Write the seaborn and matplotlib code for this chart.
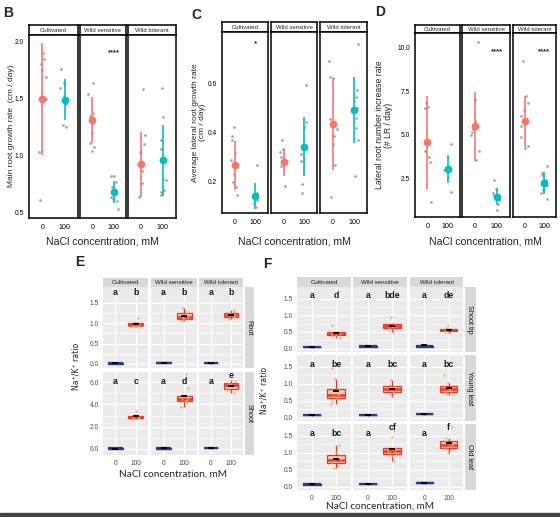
import numpy as np
import pandas as pd
import matplotlib
matplotlib.use("Agg")
import matplotlib.pyplot as plt
import seaborn as sns

# ---------------- data ----------------
groups = ["Cultivated", "Wild sensitive", "Wild tolerant"]
conc = ["0", "100"]

# Panel B: main root growth rate (cm/day)
B_pts_0 = [[1.90, 1.85, 1.80, 1.75, 1.69, 1.50, 1.03, 0.61],
           [1.64, 1.54, 1.37, 1.35, 1.20, 1.11, 1.08, 1.04],
           [1.58, 1.18, 1.10, 1.03, 0.93, 0.87, 0.76, 0.65, 0.64]]
B_pts_100 = [[1.76, 1.64, 1.59, 1.52, 1.45, 1.27, 1.25],
             [0.82, 0.82, 0.77, 0.73, 0.64, 0.62, 0.60, 0.53],
             [1.59, 1.34, 1.14, 1.06, 0.80, 0.79, 0.70, 0.68, 0.66]]
B_mean_0 = [1.50, 1.31, 0.93]
B_sd_0 = [0.49, 0.20, 0.28]
B_mean_100 = [1.49, 0.68, 0.96]
B_sd_100 = [0.18, 0.095, 0.31]
B_stars = ["", "****", ""]

# Panel C: average lateral root growth rate (cm/day)
C_pts_0 = [[0.42, 0.383, 0.367, 0.313, 0.285, 0.231, 0.197, 0.177, 0.143],
           [0.367, 0.33, 0.32, 0.30, 0.28, 0.26, 0.18],
           [0.688, 0.624, 0.62, 0.455, 0.414, 0.383, 0.35, 0.265, 0.136]]
C_pts_100 = [[0.265, 0.15, 0.134, 0.123, 0.109, 0.093],
             [0.59, 0.44, 0.42, 0.34, 0.31, 0.28, 0.19, 0.15],
             [0.76, 0.57, 0.543, 0.525, 0.50, 0.458, 0.417, 0.367, 0.22]]
C_mean_0 = [0.265, 0.276, 0.432]
C_sd_0 = [0.10, 0.055, 0.185]
C_mean_100 = [0.139, 0.34, 0.489]
C_sd_100 = [0.054, 0.121, 0.135]
C_stars = ["*", "", ""]

# Panel D: lateral root number increase rate (#LR/day)
D_pts_0 = [[6.83, 6.60, 6.54, 4.04, 3.75, 3.46, 1.15],
           [10.33, 7.02, 5.77, 5.33, 5.19, 5.00, 4.04, 3.56],
           [9.23, 7.21, 6.83, 6.44, 6.06, 5.48, 4.87, 4.33, 4.23]]
D_pts_100 = [[4.48, 3.08, 2.98, 2.60, 1.73],
             [2.40, 1.87, 1.67, 1.54, 1.25, 1.02, 0.67],
             [3.23, 2.79, 2.69, 2.40, 2.12, 1.83, 1.63, 1.29]]
D_mean_0 = [4.56, 5.48, 5.77]
D_sd_0 = [2.70, 2.00, 1.47]
D_mean_100 = [3.02, 1.44, 2.25]
D_sd_100 = [0.82, 0.48, 0.63]
D_stars = ["", "****", "****"]

# Panel E: Na+/K+ ratio, rows Root / Shoot
E_rows = ["Root", "Shoot"]
E_root_0 = [[0.00, 0.01, 0.01, 0.02, 0.02, 0.03],
            [0.02, 0.03, 0.03, 0.04, 0.04, 0.05],
            [0.01, 0.02, 0.02, 0.03, 0.03, 0.04]]
E_root_100 = [[0.92, 0.93, 0.95, 0.96, 0.97, 1.00, 1.02, 1.13],
              [1.05, 1.08, 1.10, 1.13, 1.15, 1.17, 1.24, 1.27, 1.37],
              [1.10, 1.14, 1.16, 1.19, 1.20, 1.22, 1.25, 1.27, 1.32]]
E_shoot_0 = [[0.00, 0.02, 0.04, 0.05, 0.06, 0.08],
             [0.01, 0.03, 0.05, 0.06, 0.07, 0.09],
             [0.04, 0.06, 0.08, 0.10, 0.12, 0.14]]
E_shoot_100 = [[2.65, 2.75, 2.82, 2.88, 2.92, 2.98, 3.05, 3.40],
               [3.80, 4.15, 4.30, 4.40, 4.46, 4.55, 4.65, 4.75, 5.45, 6.70],
               [5.00, 5.30, 5.40, 5.60, 5.70, 5.80, 5.95, 6.05, 6.20]]
E_root_letters = [["a", "b"], ["a", "b"], ["a", "b"]]
E_shoot_letters = [["a", "c"], ["a", "d"], ["a", "e"]]

# Panel F: Na+/K+ ratio, rows Shoot tip / Young leaf / Old leaf
F_rows = ["Shoot tip", "Young leaf", "Old leaf"]
F_tip_0 = [[0.03, 0.04, 0.05, 0.06, 0.06, 0.07],
           [0.05, 0.06, 0.07, 0.08, 0.09, 0.10],
           [0.05, 0.06, 0.07, 0.08, 0.09, 0.22]]
F_tip_100 = [[0.33, 0.38, 0.41, 0.43, 0.45, 0.48, 0.51, 0.71],
             [0.50, 0.58, 0.62, 0.66, 0.68, 0.72, 0.76, 0.95],
             [0.47, 0.51, 0.53, 0.55, 0.57, 0.59, 0.62, 0.71]]
F_young_0 = [[0.05, 0.06, 0.07, 0.07, 0.08, 0.09],
             [0.06, 0.07, 0.08, 0.08, 0.09, 0.10],
             [0.08, 0.09, 0.10, 0.10, 0.11, 0.12]]
F_young_100 = [[0.40, 0.50, 0.58, 0.63, 0.66, 0.70, 0.78, 0.85, 1.15, 1.47],
               [0.61, 0.70, 0.76, 0.84, 0.88, 0.92, 0.96, 1.10],
               [0.66, 0.71, 0.76, 0.80, 0.84, 0.88, 0.92, 1.03, 1.25]]
F_old_0 = [[0.04, 0.05, 0.06, 0.07, 0.08, 0.10],
           [0.05, 0.06, 0.07, 0.08, 0.09, 0.10],
           [0.09, 0.10, 0.11, 0.12, 0.13, 0.14]]
F_old_100 = [[0.54, 0.65, 0.72, 0.77, 0.81, 0.90, 1.02, 1.22],
             [0.75, 0.90, 0.95, 1.00, 1.03, 1.06, 1.10, 1.14, 1.46, 1.65],
             [0.99, 1.10, 1.15, 1.20, 1.24, 1.30, 1.36, 1.44, 1.77]]
F_tip_letters = [["a", "d"], ["a", "bde"], ["a", "de"]]
F_young_letters = [["a", "be"], ["a", "bc"], ["a", "bc"]]
F_old_letters = [["a", "bc"], ["a", "cf"], ["a", "f"]]

# ---------------- style ----------------
sns.set_theme(style="white")
plt.rcParams["font.family"] = ["Liberation Sans", "DejaVu Sans"]
np.random.seed(3)

W, H = 560, 517
fig = plt.figure(figsize=(W / 100, H / 100), dpi=100)
fig.patch.set_facecolor("white")

RED = "#F8766D"
TEAL = "#00BFC4"
PT_GRAY = "#A8A8A8"
BOX_RED = "#E8392B"
BOX_FILL = "#F9C6B6"
NAVY = "#2C3A8C"
NAVY_FILL = "#7F89C6"
PT_ORANGE = "#F3A35A"


def px_axes(x0, y0, x1, y1):
    return fig.add_axes([x0 / W, 1 - y1 / H, (x1 - x0) / W, (y1 - y0) / H])


def long_df(v0, v1):
    return pd.DataFrame({"conc": ["0"] * len(v0) + ["100"] * len(v1),
                         "val": list(v0) + list(v1)})


# ---------- dot panels (B, C, D) ----------
def dot_panel(letter, letter_xy, facets_x, y_strip, y_top, y_bot, ylim, yticks,
              yfmt, pts0, pts1, m0, s0, m1, s1, stars, star_y,
              ylabel, ylabel_x, ylabel_size):
    for i, g in enumerate(groups):
        x0, x1 = facets_x[i]
        sax = px_axes(x0, y_strip, x1, y_top)
        sax.set_facecolor("white")
        sax.set_xticks([]); sax.set_yticks([])
        for sp in sax.spines.values():
            sp.set_color("black"); sp.set_linewidth(1.1)
        sax.text(0.5, 0.45, g, ha="center", va="center", fontsize=4.3,
                 transform=sax.transAxes)
        ax = px_axes(x0, y_top, x1, y_bot)
        df = long_df(pts0[i], pts1[i])
        sns.stripplot(data=df, x="conc", y="val", order=conc, color=PT_GRAY,
                      size=2.0, jitter=0.2, linewidth=0, ax=ax, zorder=2)
        means = [m0[i], m1[i]]
        sds = [s0[i], s1[i]]
        for j, c in enumerate(conc):
            col = RED if c == "0" else TEAL
            ax.errorbar(j, means[j], yerr=sds[j], fmt="o", color=col,
                        ms=4.6, elinewidth=1.2, capsize=0, zorder=3)
        if stars[i]:
            ax.text(1, star_y, stars[i], ha="center", va="center",
                    fontsize=5.6, fontweight="bold", color="#222222")
        ax.set_xlim(-0.6, 1.6)
        ax.set_ylim(*ylim)
        ax.set_xlabel(""); ax.set_ylabel("")
        ax.set_facecolor("white")
        for sp in ax.spines.values():
            sp.set_visible(True); sp.set_color("black"); sp.set_linewidth(1.1)
        ax.set_xticks([0, 1])
        ax.set_xticklabels(conc, fontsize=5.1)
        ax.set_yticks(yticks)
        if i == 0:
            ax.set_yticklabels([yfmt.format(t) for t in yticks], fontsize=4.8)
            ax.tick_params(axis="y", length=2, width=0.6, pad=1.5, colors="black")
        else:
            ax.set_yticklabels([])
            ax.tick_params(axis="y", length=0)
        ax.tick_params(axis="x", length=2, width=0.6, pad=2, colors="black")
        ax.grid(False)
    fig.text(letter_xy[0] / W, 1 - letter_xy[1] / H, letter, fontsize=10,
             fontweight="bold", ha="left", va="center")
    cx = (facets_x[0][0] + facets_x[-1][1]) / 2
    fig.text(cx / W, 1 - 241 / H, "NaCl concentration, mM", fontsize=7.6,
             ha="center", va="center")
    cy = (y_top + y_bot) / 2
    fig.text(ylabel_x / W, 1 - cy / H, ylabel, fontsize=ylabel_size,
             rotation=90, ha="center", va="center", linespacing=1.0)


dot_panel("B", (3, 13), [(29, 78), (79.5, 126.5), (128, 176)], 25, 34.5, 218,
          (0.455, 2.06), [0.5, 1.0, 1.5, 2.0], "{:.1f}",
          B_pts_0, B_pts_100, B_mean_0, B_sd_0, B_mean_100, B_sd_100,
          B_stars, 1.90, "Main root growth rate  (cm / day)", 11.5, 6.0)
dot_panel("C", (191, 15), [(222, 268), (271, 317), (320, 367)], 22, 32, 213,
          (0.07, 0.808), [0.2, 0.4, 0.6], "{:.1f}",
          C_pts_0, C_pts_100, C_mean_0, C_sd_0, C_mean_100, C_sd_100,
          C_stars, 0.76, "Average lateral root growth rate\n(cm / day)", 199, 6.0)
dot_panel("D", (375, 12), [(415, 460), (462, 510), (513, 556)], 25, 33, 217,
          (0.27, 10.86), [2.5, 5.0, 7.5, 10.0], "{:.1f}",
          D_pts_0, D_pts_100, D_mean_0, D_sd_0, D_mean_100, D_sd_100,
          D_stars, 9.8, "Lateral root number increase rate\n(# LR / day)", 384, 6.2)


# ---------- ggplot-style box panels (E, F) ----------
def gg_facet(ax, v0, v1, ylim, yticks, yfmt, letters, letter_y, raise_y,
             show_y, show_x):
    d0 = long_df(v0, [])
    d1 = long_df([], v1)
    sns.boxplot(data=d0, x="conc", y="val", order=conc, color=NAVY_FILL,
                linecolor=NAVY, saturation=1, width=0.72, linewidth=1.0,
                showfliers=False, showcaps=False,
                medianprops=dict(color=NAVY, linewidth=1.6), ax=ax, zorder=2)
    sns.boxplot(data=d1, x="conc", y="val", order=conc, color=BOX_FILL,
                linecolor=BOX_RED, saturation=1, width=0.72, linewidth=0.9,
                showfliers=False, showcaps=False,
                medianprops=dict(color=BOX_RED, linewidth=1.8), ax=ax, zorder=2)
    sns.stripplot(data=long_df([], v1), x="conc", y="val", order=conc,
                  color=PT_ORANGE, size=1.6, jitter=0.2, linewidth=0,
                  alpha=0.85, ax=ax, zorder=3)
    sns.pointplot(data=long_df(v0, v1), x="conc", y="val", order=conc,
                  errorbar=None, color="black", markers="_", linestyles="none",
                  markersize=5, markeredgewidth=1.3, ax=ax, zorder=4)
    rng = ylim[1] - ylim[0]
    for j in range(2):
        yy = letter_y + (raise_y[j] * rng)
        ax.text(j, yy, letters[j], ha="center", va="center", fontsize=6.3,
                fontweight="bold", color="#1a1a1a", zorder=5)
    ax.set_xlim(-0.6, 1.6)
    ax.set_ylim(*ylim)
    ax.set_xlabel(""); ax.set_ylabel("")
    ax.set_facecolor("#EBEBEB")
    for sp in ax.spines.values():
        sp.set_visible(False)
    ax.set_axisbelow(True)
    ax.set_xticks([0, 1])
    ax.set_yticks(yticks)
    minor = [(a + b) / 2 for a, b in zip(yticks[:-1], yticks[1:])]
    ax.set_yticks(minor, minor=True)
    ax.grid(True, which="major", color="white", linewidth=0.9)
    ax.grid(True, which="minor", axis="y", color="white", linewidth=0.45)
    ax.tick_params(which="minor", length=0)
    if show_y:
        ax.set_yticklabels([yfmt.format(t) for t in yticks], fontsize=4.8,
                           color="#4D4D4D")
        ax.tick_params(axis="y", which="major", length=2, width=0.5,
                       color="#333333", pad=1)
    else:
        ax.set_yticklabels([])
        ax.tick_params(axis="y", which="major", length=0)
    if show_x:
        ax.set_xticklabels(conc, fontsize=4.8, color="#4D4D4D")
        ax.tick_params(axis="x", length=2, width=0.5, color="#333333", pad=1.5)
    else:
        ax.set_xticklabels([])
        ax.tick_params(axis="x", length=0)


def strip_box(x0, y0, x1, y1, text, rot=0, size=4.4):
    sax = px_axes(x0, y0, x1, y1)
    sax.set_facecolor("#D9D9D9")
    sax.set_xticks([]); sax.set_yticks([])
    for sp in sax.spines.values():
        sp.set_visible(False)
    sax.text(0.5, 0.5, text, ha="center", va="center", fontsize=size,
             rotation=rot, color="#1A1A1A", transform=sax.transAxes)


# Panel E
E_x = [(103, 148), (151, 197), (199, 243)]
E_y = [(287, 368), (372, 455)]
E_data = [(E_root_0, E_root_100, (-0.1, 1.89), [0.0, 0.5, 1.0, 1.5], E_root_letters, 1.76),
          (E_shoot_0, E_shoot_100, (-0.54, 6.9), [0.0, 2.0, 4.0, 6.0], E_shoot_letters, 6.05)]
for i, g in enumerate(groups):
    strip_box(E_x[i][0], 278, E_x[i][1], 287, g)
for r, (d0, d1, yl, yt, lets, ly) in enumerate(E_data):
    strip_box(244.5, E_y[r][0], 254, E_y[r][1], E_rows[r], rot=270, size=5.3)
    for i in range(3):
        ax = px_axes(E_x[i][0], E_y[r][0], E_x[i][1], E_y[r][1])
        raise_y = [0, 0.075] if (r == 1 and i == 2) else [0, 0]
        gg_facet(ax, d0[i], d1[i], yl, yt, "{:.1f}", lets[i], ly, raise_y,
                 show_y=(i == 0), show_x=(r == 1))
fig.text(75 / W, 1 - 262 / H, "E", fontsize=10, fontweight="bold",
         ha="left", va="center")
fig.text(173 / W, 1 - 474 / H, "NaCl concentration, mM", fontsize=7.2,
         family=["Lato", "DejaVu Sans"], ha="center", va="center")
fig.text(76 / W, 1 - 366 / H, "Na\u207a/K\u207a ratio", fontsize=5.6,
         family=["DejaVu Sans"], rotation=90, ha="center", va="center")

# Panel F
F_x = [(297, 351), (353, 407), (410, 463)]
F_y = [(287, 352), (355, 421), (424, 490)]
F_ylim = (-0.1, 1.85)
F_data = [(F_tip_0, F_tip_100, F_tip_letters, 1.58),
          (F_young_0, F_young_100, F_young_letters, 1.56),
          (F_old_0, F_old_100, F_old_letters, 1.58)]
for i, g in enumerate(groups):
    strip_box(F_x[i][0], 277, F_x[i][1], 287, g)
for r, (d0, d1, lets, ly) in enumerate(F_data):
    strip_box(464.5, F_y[r][0], 475.5, F_y[r][1], F_rows[r], rot=270, size=5.3)
    for i in range(3):
        ax = px_axes(F_x[i][0], F_y[r][0], F_x[i][1], F_y[r][1])
        raise_y = [0, 0.08] if (r == 2 and i > 0) else [0, 0]
        gg_facet(ax, d0[i], d1[i], F_ylim, [0.0, 0.5, 1.0, 1.5], "{:.1f}",
                 lets[i], ly, raise_y, show_y=(i == 0), show_x=(r == 2))
fig.text(263 / W, 1 - 264 / H, "F", fontsize=10, fontweight="bold",
         ha="left", va="center")
fig.text(380 / W, 1 - 506 / H, "NaCl concentration, mM", fontsize=7.2,
         family=["Lato", "DejaVu Sans"], ha="center", va="center")
fig.text(264 / W, 1 - 390 / H, "Na\u207a/K\u207a ratio", fontsize=5.6,
         family=["DejaVu Sans"], rotation=90, ha="center", va="center")

# dark band at the very bottom of the figure
fig.add_artist(plt.Rectangle((0, 0), 1, 4.5 / H, transform=fig.transFigure,
                             color="#454545", zorder=10))

fig.savefig("out.png", dpi=100)
